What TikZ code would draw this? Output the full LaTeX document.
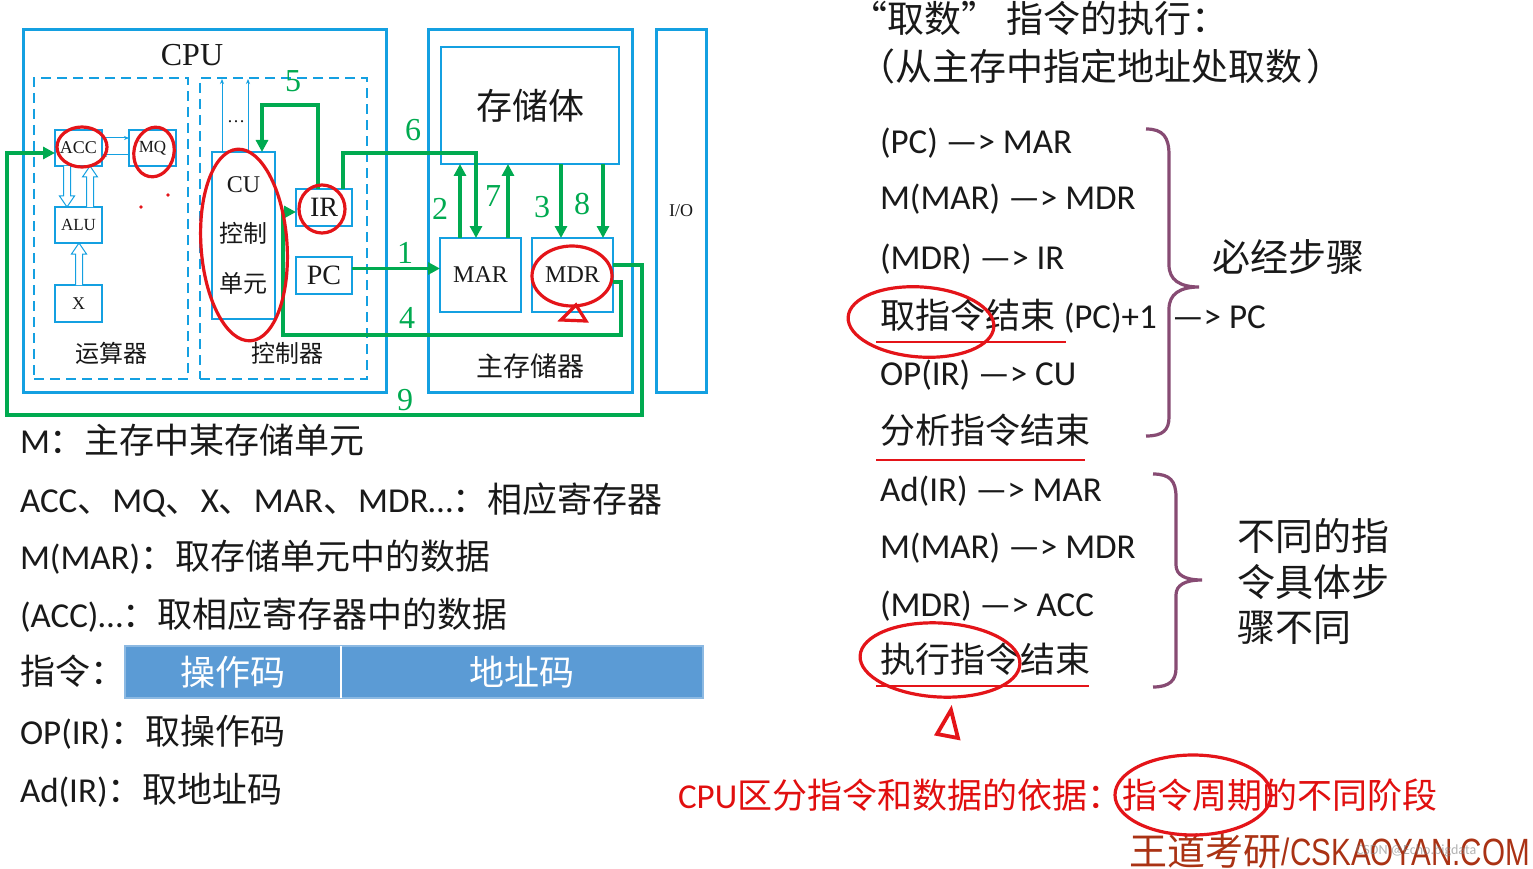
\documentclass[tikz,border=0pt]{standalone}
\usepackage{fontspec}
\setmainfont{Liberation Serif}
\newfontfamily\cjk{Noto Sans CJK SC}
\newfontfamily\lat{Carlito}
\newfontfamily\narrowfont[FakeStretch=0.78]{Liberation Sans}
\usetikzlibrary{arrows.meta,calc}
\newcommand\setfs[1]{\fontsize{#1}{#1}\selectfont}
\definecolor{bblue}{RGB}{20,160,225}
\definecolor{grn}{RGB}{0,170,80}
\definecolor{annred}{RGB}{228,20,25}
\definecolor{bracecol}{RGB}{135,75,115}
\definecolor{barblue}{RGB}{91,155,213}
\definecolor{txt}{RGB}{25,25,25}
\definecolor{redtxt}{RGB}{225,15,15}
\definecolor{wdcol}{RGB}{170,50,20}
\begin{document}
\begin{tikzpicture}[x=1pt,y=-1pt,
  every node/.style={inner sep=0pt, outer sep=0pt, text=txt},
  outerbox/.style={draw=bblue, line width=3pt},
  inbox/.style={draw=bblue, line width=1.5pt},
  dbox/.style={draw=bblue, line width=1.5pt, dash pattern=on 10pt off 6pt},
  garr/.style={draw=grn, line width=3.6pt, -{Triangle[length=12pt,width=12pt]}},
  thinarr/.style={draw=bblue, line width=1pt, -{Stealth[length=5pt,width=4pt]}},
  hol/.style={draw=bblue, line width=1pt, fill=white},
  glabel/.style={text=grn, font=\setfs{32}},
  annot/.style={draw=annred, line width=3.2pt},
  bracestyle/.style={draw=bracecol, line width=3.2pt},
  txtl/.style={anchor=base west, font=\setfs{35}},
  uline/.style={draw=annred, line width=2.8pt}
]
\useasboundingbox (0,0) rectangle (1533,869);
\fill[white] (0,0) rectangle (1533,869);

% ---------- CPU ----------
\node[outerbox, minimum width=363, minimum height=362] (cpu) at (204.5,211) {};
\node[font=\setfs{32}] (cpulab) at (192,55) {CPU};
\node[dbox, minimum width=154, minimum height=301] (alubox) at (111,228.5) {};
\node[dbox, minimum width=167, minimum height=301] (ctlbox) at (283.5,228.5) {};
\node[inbox, minimum width=47, minimum height=36, font=\setfs{18}] (acc) at (78.5,148) {ACC};
\node[inbox, minimum width=47, minimum height=36, font=\setfs{17}] (mq) at (152.5,148) {MQ};
\node[inbox, minimum width=47, minimum height=36, font=\setfs{17}] (alu) at (78.5,225) {ALU};
\node[inbox, minimum width=47, minimum height=37, font=\setfs{18}] (x) at (78.5,303.5) {X};
\node[inbox, minimum width=63, minimum height=167, align=center, font=\setfs{24}] (cu) at (243.5,235.5) {CU\\[26pt]{\cjk 控制}\\[26pt]{\cjk 单元}};
\node[inbox, minimum width=56, minimum height=37, font=\setfs{28}] (ir) at (324,207.5) {IR};
\node[inbox, minimum width=56, minimum height=37, font=\setfs{28}] (pc) at (324,275.5) {PC};
\node[font=\cjk\setfs{24}] (ysq) at (111,353) {运算器};
\node[font=\cjk\setfs{24}] (kzq) at (287,353) {控制器};
\node[font=\setfs{18}] (dots) at (236,122) {…};

% ---------- Memory ----------
\node[outerbox, minimum width=204, minimum height=362] (mem) at (530,211) {};
\node[inbox, minimum width=178, minimum height=117, font=\cjk\setfs{36}] (store) at (530,105.5) {存储体};
\node[inbox, minimum width=81, minimum height=74, font=\setfs{24}] (mar) at (480.5,275) {MAR};
\node[inbox, minimum width=81, minimum height=74, font=\setfs{24}] (mdr) at (572.5,275) {MDR};
\node[font=\cjk\setfs{27}] (zcq) at (530,366) {主存储器};
\node[outerbox, minimum width=50, minimum height=362, font=\setfs{18}] (io) at (681,211) {I/O};

% thin blue arrows
\draw[thinarr] ([yshift=10pt]acc.east) -- ([yshift=10pt]mq.west);
\draw[thinarr] ([yshift=-7pt]mq.west) -- ([yshift=-7pt]acc.east);
\coordinate (cl1) at (222,79);
\coordinate (cl2) at (248,79);
\draw[thinarr] (cl1 |- cu.north) -- (cl1);
\draw[thinarr] (cl2 |- cu.north) -- (cl2);

% hollow arrows
\draw[hol] (63.5,166) -- (63.5,196) -- (59.5,196) -- (67,207) -- (74.5,196) -- (70.5,196) -- (70.5,166);
\draw[hol] (86.5,207) -- (86.5,177) -- (82.5,177) -- (90,166) -- (97.5,177) -- (93.5,177) -- (93.5,207);
\draw[hol] (75.5,285) -- (75.5,254) -- (71.5,254) -- (79,243) -- (86.5,254) -- (82.5,254) -- (82.5,285);

% ---------- green data paths ----------
\coordinate (p1) at ([yshift=7pt]pc.east);
\draw[garr] (p1) -- (p1 -| mar.west);
\coordinate (c2) at (460,0);
\coordinate (c7) at (508,0);
\coordinate (c3) at (561,0);
\coordinate (c8) at (603,0);
\draw[garr] (c2 |- mar.north) -- (c2 |- store.south);
\draw[garr] (c7 |- mar.north) -- (c7 |- store.south);
\draw[garr] (c3 |- store.south) -- (c3 |- mdr.north);
\draw[garr] (c8 |- store.south) -- (c8 |- mdr.north);
\coordinate (k5a) at (318,105);
\coordinate (k5b) at (262,105);
\draw[garr] (k5a |- ir.north) -- (k5a) -- (k5b) -- (k5b |- cu.north);
\coordinate (k6a) at (343,153);
\coordinate (k6b) at (476,153);
\draw[garr] (k6a |- ir.north) -- (k6a) -- (k6b) -- (k6b |- mar.north);
\coordinate (p4) at ([yshift=-7pt]mdr.east);
\coordinate (k4a) at (621,335);
\coordinate (k4b) at (283,335);
\coordinate (k4c) at (283,212);
\draw[garr] (p4) -| (k4a) -- (k4b) -- (k4c) -- (k4c -| ir.west);
\coordinate (p9) at ([yshift=10pt]mdr.east);
\coordinate (k9a) at (642,415);
\coordinate (k9b) at (7,415);
\coordinate (k9c) at (7,153);
\draw[garr] (p9) -| (k9a) -- (k9b) -- (k9c) -- (k9c -| acc.west);

\node[glabel] (n1) at (405,253) {1};
\node[glabel] (n2) at (440,209) {2};
\node[glabel] (n3) at (542,207) {3};
\node[glabel] (n4) at (407,318) {4};
\node[glabel] (n5) at (293,81) {5};
\node[glabel] (n6) at (413,130) {6};
\node[glabel] (n7) at (493,196) {7};
\node[glabel] (n8) at (582,204) {8};
\node[glabel] (n9) at (405,400) {9};

% ---------- left legend ----------
\node[txtl] (l1) at (20,453) {{\lat M}{\cjk ：主存中某存储单元}};
\node[txtl] (l2) at (20,512) {{\lat ACC}{\cjk 、}{\lat MQ}{\cjk 、}{\lat X}{\cjk 、}{\lat MAR}{\cjk 、}{\lat MDR…}{\cjk ：相应寄存器}};
\node[txtl] (l3) at (20,569) {{\lat M(MAR)}{\cjk ：取存储单元中的数据}};
\node[txtl] (l4) at (20,627) {{\lat (ACC)…}{\cjk ：取相应寄存器中的数据}};
\node[txtl] (l5) at (20,684) {{\cjk 指令：}};
\node[fill=barblue, draw=barblue!70!white, line width=1.5pt, minimum width=216, minimum height=52, text=white, font=\cjk\setfs{35}] (op) at (233,672) {操作码};
\node[fill=barblue, draw=barblue!70!white, line width=1.5pt, minimum width=362, minimum height=52, text=white, font=\cjk\setfs{35}] (ad) at (522,672) {地址码};
\draw[white, line width=2pt] (op.north east) -- (op.south east);
\node[txtl] (l6) at (20,744) {{\lat OP(IR)}{\cjk ：取操作码}};
\node[txtl] (l7) at (20,802) {{\lat Ad(IR)}{\cjk ：取地址码}};

% ---------- right side ----------
\node[anchor=base west, font=\cjk\setfs{37}] (t1) at (850,33) {“取数” 指令的执行：};
\node[anchor=base west, font=\cjk\setfs{37}] (t2) at (858,81) {（从主存中指定地址处取数\hspace{4pt}）};
\node[txtl, font=\lat\setfs{35}] (r1) at (880,154) {(PC) —> MAR};
\node[txtl, font=\lat\setfs{35}] (r2) at (880,210) {M(MAR) —> MDR};
\node[txtl, font=\lat\setfs{35}] (r3) at (880,269) {(MDR) —> IR};
\node[txtl] (r4) at (880,328) {{\cjk 取指令结束} {\lat (PC)+1}};
\node[txtl, font=\lat\setfs{35}] (r4b) at (1172,328) {—> PC};
\node[txtl, font=\lat\setfs{35}] (r5) at (880,385) {OP(IR) —> CU};
\node[txtl, font=\cjk\setfs{35}] (r6) at (880,443) {分析指令结束};
\node[txtl, font=\lat\setfs{35}] (r7) at (880,501) {Ad(IR) —> MAR};
\node[txtl, font=\lat\setfs{35}] (r8) at (880,558) {M(MAR) —> MDR};
\node[txtl, font=\lat\setfs{35}] (r9) at (880,616) {(MDR) —> ACC};
\node[txtl, font=\cjk\setfs{35}] (r10) at (880,672) {执行指令结束};
\node[anchor=base west, font=\cjk\setfs{38}] (s1) at (1212,271) {必经步骤};
\node[anchor=base west, font=\cjk\setfs{38}] (s2a) at (1237,550) {不同的指};
\node[anchor=base west, font=\cjk\setfs{38}] (s2b) at (1237,596) {令具体步};
\node[anchor=base west, font=\cjk\setfs{38}] (s2c) at (1237,641) {骤不同};

\draw[uline] (876,342) -- (1066,342);
\draw[uline] (876,460) -- (1085,460);
\draw[uline] (876,686) -- (1089,686);

\draw[bracestyle] (1146,129) .. controls (1163,129) and (1169,137) .. (1169,155) -- (1169,265) .. controls (1169,280) and (1180,287) .. (1199,287) .. controls (1180,287) and (1169,294) .. (1169,309) -- (1169,417) .. controls (1169,430) and (1163,436) .. (1146,436);
\draw[bracestyle] (1153,474) .. controls (1170,474) and (1176,481) .. (1176,497) -- (1176,565) .. controls (1176,575) and (1185,580) .. (1202,580) .. controls (1185,580) and (1176,585) .. (1176,595) -- (1176,668) .. controls (1176,680) and (1170,687) .. (1153,687);

\node[anchor=base west, font=\setfs{35}, text=redtxt] (bot) at (678,808) {{\lat CPU}{\cjk 区分指令和数据的依据：指令周期的不同阶段}};
\node[anchor=base east, font=\narrowfont\setfs{38}, text=wdcol] (wd) at (1530,865) {{\cjk 王道考研}/CSKAOYAN.COM};
\node[anchor=base west, font=\lat\setfs{14}, text=gray, opacity=0.6] (wm) at (1356,854) {CSDN @Echo.bigdata};

% ---------- red annotations ----------
\draw[annot] (82,147) ellipse [x radius=25, y radius=20];
\draw[annot] (154,152) ellipse [x radius=20, y radius=25, rotate=-12];
\fill[annred] (141,207) circle (1.8);
\fill[annred] (168,195) circle (1.8);
\draw[annot] (244,245) ellipse [x radius=43, y radius=96, rotate=4];
\draw[annot] (322,209) ellipse [x radius=23, y radius=24];
\draw[annot] (572,276) ellipse [x radius=40, y radius=30];
\draw[annot] (561,320) -- (586,321) -- (576,305) -- cycle;
\draw[annot] (921,322) ellipse [x radius=73, y radius=35, rotate=-4];
\draw[annot] (940,660) ellipse [x radius=80, y radius=37, rotate=-3];
\draw[annot, line width=3.8pt] (951,710) -- (937,734) -- (958,738) -- cycle;
\draw[annot] (1193,795) ellipse [x radius=78, y radius=40];
\end{tikzpicture}
\end{document}
